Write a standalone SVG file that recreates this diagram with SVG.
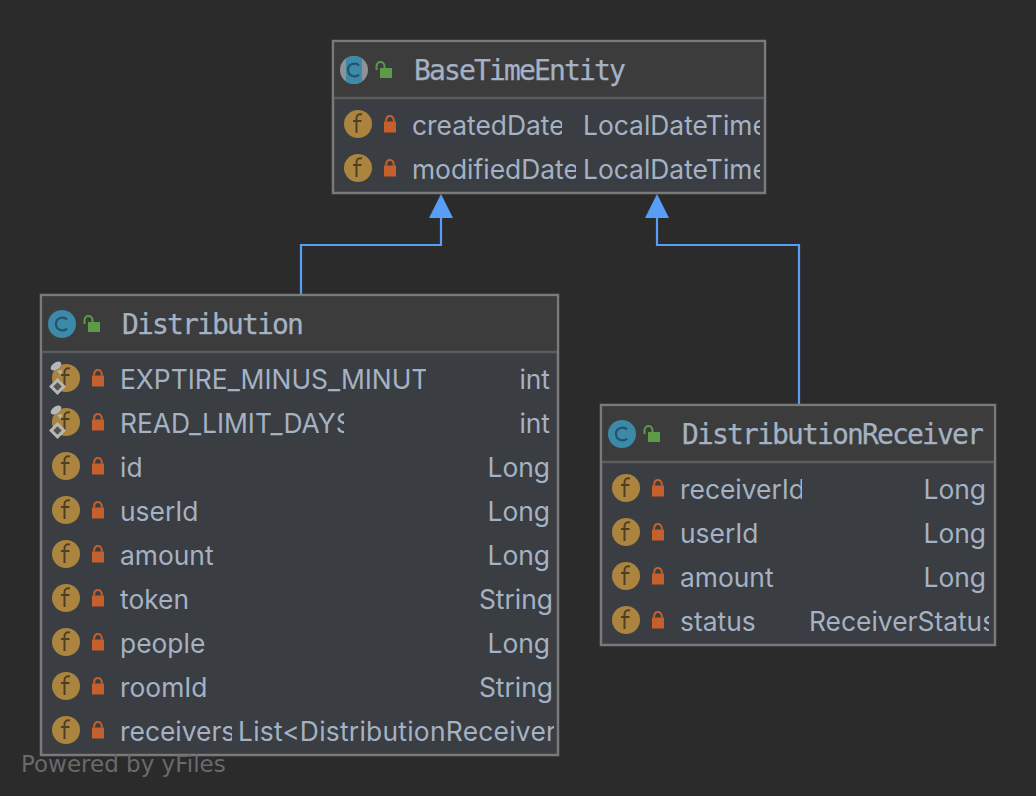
<svg xmlns="http://www.w3.org/2000/svg" xmlns:xlink="http://www.w3.org/1999/xlink" width="1036" height="796" viewBox="0 0 1036 796">
<style>
.box{fill:#3a3d41;stroke:#7a7a7a;stroke-width:2.5}
.hd{fill:#3c3c3c}
.div{stroke:#5c5c5c;stroke-width:2.5}
.title{font:28px "DejaVu Sans Mono","Liberation Mono",monospace;letter-spacing:-1.86px;fill:#a4b2c4;stroke:#a4b2c4;stroke-width:.25}
.t{font:26.400px Inter,"Noto Sans",sans-serif;fill:#a4b2c4}
.e{text-anchor:end}
.edge{fill:none;stroke:#589df6;stroke-width:2.2}
.ah{fill:#589df6}
.pow{font:23px "DejaVu Sans","Noto Sans",sans-serif;fill:#6a6a6a}
</style>
<defs>
<g id="field"><circle r="14" fill="#ab8540"/><path d="M4 -9.500C1 -10.500 -1.500 -9 -1.500 -6V9M-5 -3H3.500" fill="none" stroke="#4f3f22" stroke-width="2"/></g>
<g id="lock"><rect x="-6" y="-3.500" width="12" height="11" fill="#c5602c"/><path d="M-3.800 -3.500V-4.500C-3.800 -10.500 3.800 -10.500 3.800 -4.500V-3.500" fill="none" stroke="#c5602c" stroke-width="2"/></g>
<g id="open"><rect x="-1" y="-2" width="12" height="10" fill="#5c9a45"/><path d="M-4.500 0V-3.500C-4.500 -9.500 3.500 -9.500 3.500 -3.500V-2" fill="none" stroke="#5c9a45" stroke-width="2"/></g>
<g id="class"><circle r="14" fill="#3c8aa8"/><path d="M5 -4.500C2 -8 -6 -6.500 -6 0C-6 6.500 2 8 5 4.500" fill="none" stroke="#24526a" stroke-width="2.200"/></g>
<g id="static"><ellipse cx="-10" cy="-12" rx="6" ry="3.500" transform="rotate(-35 -10 -12)" fill="#b4b8bc"/><path d="M-9 -7L-5 -3L-4 -8Z" fill="#b4b8bc"/><rect x="-13" y="4" width="9" height="9" transform="rotate(45 -8.500 8.500)" fill="#5a5244" stroke="#b4b8bc" stroke-width="3"/></g>
<clipPath id="c1"><rect x="412" y="105" width="150" height="40"/></clipPath>
<clipPath id="c2"><rect x="412" y="150" width="164" height="40"/></clipPath>
<clipPath id="c3"><rect x="583" y="105" width="177" height="85"/></clipPath>
<clipPath id="c4"><rect x="120" y="360" width="306" height="37"/></clipPath>
<clipPath id="c5"><rect x="120" y="404" width="224" height="37"/></clipPath>
<clipPath id="c6"><rect x="120" y="712" width="112" height="37"/></clipPath>
<clipPath id="c7"><rect x="238" y="712" width="316" height="37"/></clipPath>
<clipPath id="c8"><rect x="680" y="470" width="122" height="37"/></clipPath>
<clipPath id="c9"><rect x="809" y="602" width="180" height="37"/></clipPath>
<clipPath id="lens"><circle cx="354" cy="70" r="14"/></clipPath>
</defs>
<rect width="1036" height="796" fill="#2b2b2b"/>
<g id="connectors">
<path class="edge" d="M301 295V245H441V218"/>
<path class="ah" d="M441 194L429 218H453Z"/>
<path class="edge" d="M799 405V245H657V218"/>
<path class="ah" d="M657 194L645 218H669Z"/>
</g>
<g id="BaseTimeEntity">
<rect class="box" x="333" y="41" width="432" height="152"/>
<rect class="hd" x="334.500" y="42.500" width="429" height="55"/>
<line class="div" x1="334" y1="98" x2="764" y2="98"/>
<circle cx="354" cy="70" r="14" fill="#8d9398"/>
<rect x="346" y="56" width="16" height="28" fill="#3c8aa8" clip-path="url(#lens)"/>
<path d="M359 65.500C356 62 348 63.500 348 70C348 76.500 356 78 359 74.500" fill="none" stroke="#24526a" stroke-width="2.200"/>
<use xlink:href="#open" href="#open" x="381" y="70"/>
<text class="title" x="414" y="80">BaseTimeEntity</text>
<use xlink:href="#field" href="#field" x="358" y="124"/>
<use xlink:href="#lock" href="#lock" x="390" y="125"/>
<text class="t" x="412" y="135" clip-path="url(#c1)">createdDate</text>
<text class="t" x="583" y="135" clip-path="url(#c3)">LocalDateTime</text>
<use xlink:href="#field" href="#field" x="358" y="168"/>
<use xlink:href="#lock" href="#lock" x="390" y="169"/>
<text class="t" x="412" y="179" clip-path="url(#c2)">modifiedDate</text>
<text class="t" x="583" y="179" clip-path="url(#c3)">LocalDateTime</text>
</g>
<g id="Distribution">
<rect class="box" x="41" y="295" width="517" height="460"/>
<rect class="hd" x="42.500" y="296.500" width="514" height="55"/>
<line class="div" x1="42" y1="352" x2="557" y2="352"/>
<use xlink:href="#class" href="#class" x="62" y="324"/>
<use xlink:href="#open" href="#open" x="89" y="324"/>
<text class="title" x="122" y="334">Distribution</text>
<use xlink:href="#field" href="#field" x="66" y="378"/><use xlink:href="#static" href="#static" x="66" y="378"/><use xlink:href="#lock" href="#lock" x="98" y="379"/>
<text class="t" x="120" y="389" clip-path="url(#c4)">EXPTIRE_MINUS_MINUT</text>
<text class="t e" x="550" y="389">int</text>
<use xlink:href="#field" href="#field" x="66" y="422"/><use xlink:href="#static" href="#static" x="66" y="422"/><use xlink:href="#lock" href="#lock" x="98" y="423"/>
<text class="t" x="120" y="433" clip-path="url(#c5)">READ_LIMIT_DAYS</text>
<text class="t e" x="550" y="433">int</text>
<use xlink:href="#field" href="#field" x="66" y="466"/><use xlink:href="#lock" href="#lock" x="98" y="467"/>
<text class="t" x="120" y="477">id</text><text class="t e" x="550" y="477">Long</text>
<use xlink:href="#field" href="#field" x="66" y="510"/><use xlink:href="#lock" href="#lock" x="98" y="511"/>
<text class="t" x="120" y="521">userId</text><text class="t e" x="550" y="521">Long</text>
<use xlink:href="#field" href="#field" x="66" y="554"/><use xlink:href="#lock" href="#lock" x="98" y="555"/>
<text class="t" x="120" y="565">amount</text><text class="t e" x="550" y="565">Long</text>
<use xlink:href="#field" href="#field" x="66" y="598"/><use xlink:href="#lock" href="#lock" x="98" y="599"/>
<text class="t" x="120" y="609">token</text><text class="t e" x="553" y="609">String</text>
<use xlink:href="#field" href="#field" x="66" y="642"/><use xlink:href="#lock" href="#lock" x="98" y="643"/>
<text class="t" x="120" y="653">people</text><text class="t e" x="550" y="653">Long</text>
<use xlink:href="#field" href="#field" x="66" y="686"/><use xlink:href="#lock" href="#lock" x="98" y="687"/>
<text class="t" x="120" y="697">roomId</text><text class="t e" x="553" y="697">String</text>
<use xlink:href="#field" href="#field" x="66" y="730"/><use xlink:href="#lock" href="#lock" x="98" y="731"/>
<text class="t" x="120" y="741" clip-path="url(#c6)">receivers</text>
<text class="t" x="238" y="741" letter-spacing=".25" clip-path="url(#c7)">List&lt;DistributionReceiver</text>
</g>
<g id="DistributionReceiver">
<rect class="box" x="601" y="405" width="394" height="240"/>
<rect class="hd" x="602.500" y="406.500" width="391" height="55"/>
<line class="div" x1="602" y1="462" x2="994" y2="462"/>
<use xlink:href="#class" href="#class" x="622" y="434"/>
<use xlink:href="#open" href="#open" x="649" y="434"/>
<text class="title" x="682" y="444">DistributionReceiver</text>
<use xlink:href="#field" href="#field" x="626" y="488"/><use xlink:href="#lock" href="#lock" x="658" y="489"/>
<text class="t" x="680" y="499" clip-path="url(#c8)">receiverId</text><text class="t e" x="986" y="499">Long</text>
<use xlink:href="#field" href="#field" x="626" y="532"/><use xlink:href="#lock" href="#lock" x="658" y="533"/>
<text class="t" x="680" y="543">userId</text><text class="t e" x="986" y="543">Long</text>
<use xlink:href="#field" href="#field" x="626" y="576"/><use xlink:href="#lock" href="#lock" x="658" y="577"/>
<text class="t" x="680" y="587">amount</text><text class="t e" x="986" y="587">Long</text>
<use xlink:href="#field" href="#field" x="626" y="620"/><use xlink:href="#lock" href="#lock" x="658" y="621"/>
<text class="t" x="680" y="631">status</text>
<text class="t" x="809" y="631" clip-path="url(#c9)">ReceiverStatus</text>
</g>
<text class="pow" x="21" y="772">Powered by yFiles</text>
</svg>
